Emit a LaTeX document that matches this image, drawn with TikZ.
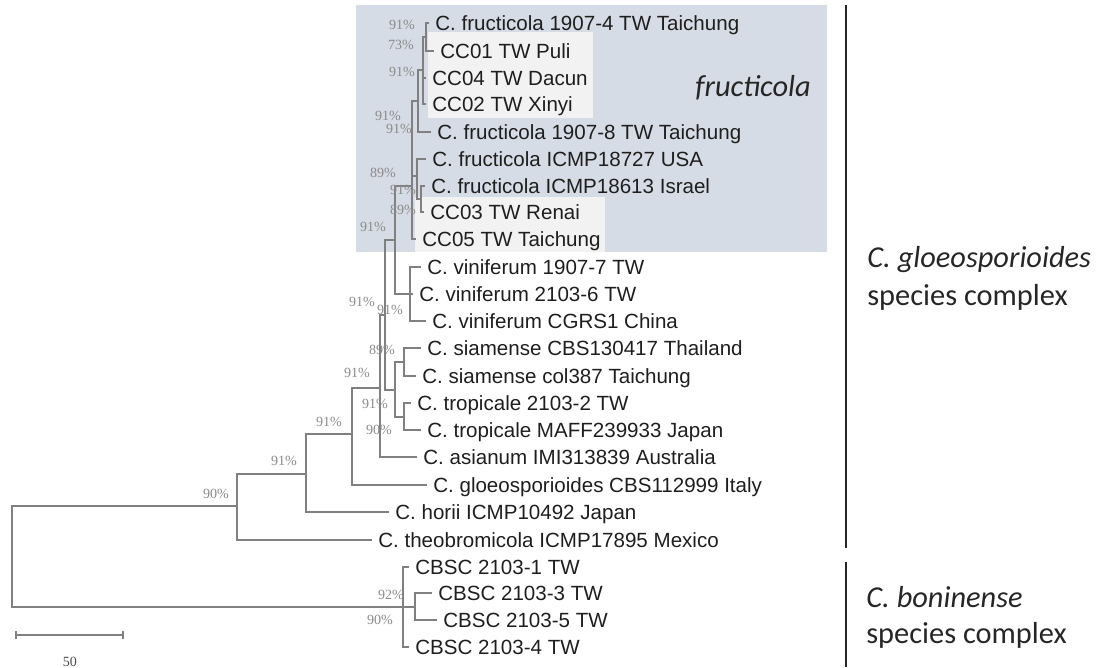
\documentclass[tikz,border=0pt]{standalone}
\usepackage{fontspec}
\setmainfont{Liberation Sans}
\newfontfamily\bootfont{Liberation Serif}
\newfontfamily\calfont{Carlito}
\usetikzlibrary{positioning}
\definecolor{treegray}{HTML}{808080}
\definecolor{bootgray}{HTML}{8A8A8A}
\definecolor{leafink}{HTML}{1E1E1E}
\definecolor{fructbg}{HTML}{D6DCE5}
\definecolor{ccbg}{HTML}{F2F2F2}
\tikzset{
  branch/.style={treegray, line width=0.6pt},
  leaf/.style={anchor=west, inner xsep=3.4pt, inner ysep=0pt, text height=8.4pt, text depth=0pt,
    text=leafink, font=\fontsize{11.7}{12}\selectfont},
  boot/.style={inner sep=0pt, text=bootgray, font=\bootfont\fontsize{8}{8}\selectfont},
  complexbar/.style={line width=1.7pt, black!85},
  grouplabel/.style={anchor=base west, inner sep=0pt, text=black!85, font=\calfont\fontsize{17.3}{20}\selectfont},
}
% a clade: from the node's vertical out to each child
\newcommand{\clade}[2]{\foreach \ch in {#2}{\draw[branch] (#1) -- (#1 |- \ch) -- (\ch);}}

\begin{document}
\begin{tikzpicture}[x=0.02cm, y=-0.02cm]
  \useasboundingbox (0,0) rectangle (1100,667);
  % ---------- shaded fructicola block, local isolates highlighted
  \fill[fructbg] (356,5) rectangle (827,252);
  \fill[ccbg] (428,32) rectangle (593,118);
  \fill[ccbg] (415,197) rectangle (605,252);
  % ---------- leaves (x = branch tip)
  \foreach \i/\x/\y/\name in {
      1/429/23/C. fructicola 1907-4 TW Taichung, 2/434/51/CC01 TW Puli,
      3/426/78/CC04 TW Dacun, 4/426/104/CC02 TW Xinyi,
      5/431/132/C. fructicola 1907-8 TW Taichung, 6/426/159/C. fructicola ICMP18727 USA,
      7/425/186/C. fructicola ICMP18613 Israel, 8/424/212/CC03 TW Renai,
      9/416/239/CC05 TW Taichung, 10/421/267/C. viniferum 1907-7 TW,
      11/413/294/C. viniferum 2103-6 TW, 12/426/321/C. viniferum CGRS1 China,
      13/421/348/C. siamense CBS130417 Thailand, 14/416/376/C. siamense col387 Taichung,
      15/411/403/C. tropicale 2103-2 TW, 16/421/430/C. tropicale MAFF239933 Japan,
      17/417/457/C. asianum IMI313839 Australia, 18/427/485/C. gloeosporioides CBS112999 Italy,
      19/389/512/C. horii ICMP10492 Japan, 20/372/540/C. theobromicola ICMP17895 Mexico,
      21/409/567/CBSC 2103-1 TW, 22/432/593/CBSC 2103-3 TW,
      23/437/620/CBSC 2103-5 TW, 24/409/647/CBSC 2103-4 TW}
    \node[leaf] (l\i) at (\x,\y) {\name};
  % ---------- internal nodes: x of the vertical, y where the parent joins
  \coordinate (nA) at (426,37);
  \coordinate (nB) at (423,70);
  \coordinate (nC) at (418,101);
  \coordinate (nD) at (421,199);
  \coordinate (nE) at (417,176);
  \coordinate (nF) at (412,186);
  \coordinate (nV) at (410,294);
  \coordinate (nW) at (395,240);
  \coordinate (nS) at (404,362);
  \coordinate (nT) at (404,417);
  \coordinate (nL) at (395,390);
  \coordinate (nK) at (385,315);
  \coordinate (nJ) at (380,388);
  \coordinate (nI) at (352,434);
  \coordinate (nH) at (306,474);
  \coordinate (nG) at (237,506);
  \coordinate (nB2) at (415,607);
  \coordinate (nBon) at (403,607);
  \coordinate (root) at (12,556);
  \clade{nA}{l1.west,l2.west}
  \clade{nB}{nA,l3.west,l4.west}
  \clade{nC}{nB,l5.west}
  \clade{nD}{l7.west,l8.west}
  \clade{nE}{l6.west,nD}
  \clade{nF}{nC,nE,l9.west}
  \clade{nV}{l10.west,l11.west,l12.west}
  \clade{nW}{nF,nV}
  \clade{nS}{l13.west,l14.west}
  \clade{nT}{l15.west,l16.west}
  \clade{nL}{nS,nT}
  \clade{nK}{nW,nL}
  \clade{nJ}{nK,l17.west}
  \clade{nI}{nJ,l18.west}
  \clade{nH}{nI,l19.west}
  \clade{nG}{nH,l20.west}
  \clade{nB2}{l22.west,l23.west}
  \clade{nBon}{l21.west,nB2,l24.west}
  \clade{root}{nG,nBon}
  % ---------- bootstrap values
  \foreach \x/\y/\v [count=\k] in {402/25/91, 401/45/73, 402/72/91, 388/116/91, 399/129/91,
      383/173/89, 403/190/91, 403/210/89, 373/227/91, 362/302/91, 390/310/91, 382/350/89,
      357/373/91, 375/404/91, 329/422/91, 379/430/90, 284/461/91, 216/494/90, 391/595/92, 380/620/90}
    \node[boot] (bs\k) at (\x,\y) {\v\%};
  % ---------- scale bar
  \coordinate (sb0) at (16,635);
  \coordinate (sb1) at (123,635);
  \draw[branch] (sb0) -- (sb1);
  \draw[branch] ([yshift=2.2pt]sb0) -- ([yshift=-2.2pt]sb0) ([yshift=2.2pt]sb1) -- ([yshift=-2.2pt]sb1);
  \node[boot, text=black!70] (sblab) at (70,662) {50};
  % ---------- species complexes
  \node[grouplabel] (fruct) at (695,96) {\itshape fructicola};
  \draw[complexbar] (846,5) -- (846,548);
  \draw[complexbar] (846,562) -- (846,667);
  \node[grouplabel] (gsc1) at (867,267) {\itshape C. gloeosporioides};
  \node[grouplabel] (gsc2) at (867,305) {species complex};
  \node[grouplabel] (bsc1) at (866,607) {\itshape C. boninense};
  \node[grouplabel] (bsc2) at (866,643) {species complex};
\end{tikzpicture}
\end{document}
